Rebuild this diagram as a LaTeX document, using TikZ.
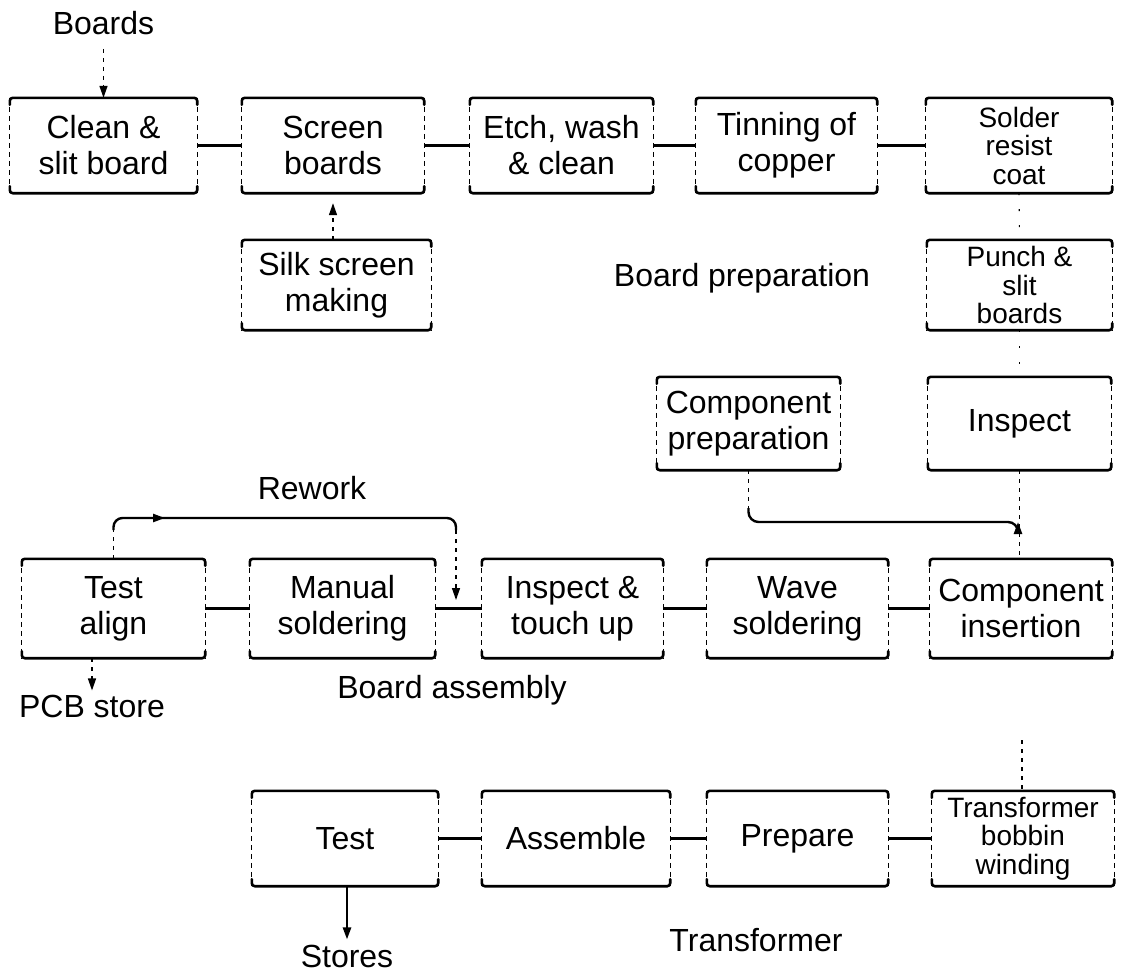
\documentclass[tikz,border=0pt]{standalone}
\usepackage{fontspec}
\setmainfont{Liberation Sans}
\usetikzlibrary{arrows.meta}
\newcommand\boxfont{\fontsize{32}{36}\selectfont}
\newcommand\tightfont{\fontsize{28}{28.5}\selectfont}
\tikzset{
  proc/.style={inner sep=0pt, align=center, font=\boxfont},
  proctight/.style={proc, font=\tightfont},
  lbl/.style={inner sep=0pt, font=\boxfont},
  rim/.style={line width=2.6pt, line cap=round, rounded corners=3pt},
  side/.style={line width=1.3pt, dash pattern=on 5pt off 4pt},
  link/.style={line width=2.4pt},
  vdot/.style={line width=1.4pt, dash pattern=on 4pt off 5pt},
  faint/.style={line width=1.2pt, dash pattern=on 2pt off 14pt},
  tip/.style={-{Triangle[length=12pt,width=8pt]}},
}
% frame of a process box: heavy top and bottom rules, light dashed sides
\newcommand\frameproc[1]{%
  \draw[rim] ([yshift=-7pt]#1.north west) |- (#1.north east) -- ([yshift=-7pt]#1.north east);
  \draw[rim] ([yshift=7pt]#1.south west) |- (#1.south east) -- ([yshift=7pt]#1.south east);
  \draw[side] (#1.north west) -- (#1.south west);
  \draw[side] (#1.north east) -- (#1.south east);
}
\begin{document}
\begin{tikzpicture}[x=1pt,y=-1pt]
\useasboundingbox (0,0) rectangle (1126,974);

% board preparation
\node[proc,minimum width=187pt,minimum height=95pt] (clean) at (103.5,145.5) {Clean \&\\slit board};
\node[proc,minimum width=182pt,minimum height=95pt] (screen) at (333,145.5) {Screen\\boards};
\node[proc,minimum width=183pt,minimum height=95pt] (etch) at (561.5,145.5) {Etch, wash\\\& clean};
\node[proc,minimum width=181pt,minimum height=95pt] (tin) at (786.5,145.5) {Tinning of\\copper};
\node[proctight,minimum width=186pt,minimum height=95pt] (solder) at (1019,145.5) {Solder\\resist\\coat};
\node[proc,minimum width=189pt,minimum height=90pt] (silk) at (336.5,285) {Silk screen\\making};
\node[proctight,minimum width=185pt,minimum height=90pt] (punch) at (1019.5,285) {Punch \&\\slit\\boards};
\node[lbl] (bprep) at (742,278) {Board preparation};
\node[lbl] (boards) at (103.5,23) {Boards};

% board assembly
\node[proc,minimum width=183pt,minimum height=93pt] (cprep) at (748.5,423.5) {Component\\preparation};
\node[proc,minimum width=183pt,minimum height=93pt] (insp) at (1019.5,423.5) {Inspect};
\node[proc,minimum width=183pt,minimum height=99pt] (talign) at (113.5,608.5) {Test\\align};
\node[proc,minimum width=185pt,minimum height=99pt] (manual) at (342.5,608.5) {Manual\\soldering};
\node[proc,minimum width=181pt,minimum height=99pt] (touch) at (572.5,608.5) {Inspect \&\\touch up};
\node[proc,minimum width=181pt,minimum height=99pt] (wave) at (797.5,608.5) {Wave\\soldering};
\node[proc,minimum width=182pt,minimum height=99pt] (cins) at (1021,608.5) {Component\\insertion};
\node[lbl] (rework) at (312,488) {Rework};
\node[lbl] (pcb) at (92,706) {PCB store};
\node[lbl] (bassy) at (452,690) {Board assembly};

% transformer
\node[proc,minimum width=186pt,minimum height=95pt] (test) at (345,838.5) {Test};
\node[proc,minimum width=188pt,minimum height=95pt] (assy) at (576,838.5) {Assemble};
\node[proc,minimum width=181pt,minimum height=95pt] (prep) at (797.5,838.5) {Prepare};
\node[proctight,minimum width=182pt,minimum height=95pt] (bobbin) at (1023,838.5) {Transformer\\bobbin\\winding};
\node[lbl] (trans) at (756,940) {Transformer};
\node[lbl] (stores) at (347,956) {Stores};

\foreach \n in {clean,screen,etch,tin,solder,silk,punch,cprep,insp,talign,manual,touch,wave,cins,test,assy,prep,bobbin}
  {\frameproc{\n}}

% flow of the boards
\draw[vdot,tip] (boards.south) ++(0,-14pt) -- (clean.north);
\draw[link] (clean) -- (screen);
\draw[link] (screen) -- (etch);
\draw[link] (etch) -- (tin);
\draw[link] (tin) -- (solder);
\draw[vdot,tip] (silk.north -| screen.south) -- ([yshift=-10pt]screen.south);
\draw[faint] (solder.south) -- (punch.north);
\draw[faint] (punch.south) -- (insp.north);

% components join the inspected boards
\coordinate (cp1) at (748.5,508);
\coordinate (jn) at (1018,532);
\draw[vdot] (insp.south) -- (insp.south |- cins.north);
\draw[vdot] (cprep.south) -- (cp1);
\draw[link,rounded corners=10pt] (cp1) |- (1018,522) -- (jn);
\draw[link,tip] (jn) -- ++(0,10pt);

\draw[link] (cins) -- (wave);
\draw[link] (wave) -- (touch);
\draw[link] (touch) -- (manual);
\draw[link] (manual) -- (talign);

% rework loop
\coordinate (rw1) at (113.5,530);
\coordinate (rw2) at (456,530);
\coordinate (rwend) at (456,600);
\draw[vdot] (talign.north) -- (rw1);
\draw[link,rounded corners=9pt] (rw1) |- (456,518) -- (rw2);
\draw[link,tip] (125,518) -- (165,518);
\draw[vdot,tip] (rw2) -- (rwend);

% boards leave for the store
\draw[vdot,tip] (talign.south -| pcb.north) -- ([yshift=4pt]pcb.north);

% transformer line
\coordinate (tb) at (1022,740);
\draw[vdot] (tb) -- (tb |- bobbin.north);
\draw[link] (bobbin) -- (prep);
\draw[link] (prep) -- (assy);
\draw[link] (assy) -- (test);
\draw[link,tip] (test.south -| stores.north) -- ([yshift=5pt]stores.north);
\end{tikzpicture}
\end{document}
